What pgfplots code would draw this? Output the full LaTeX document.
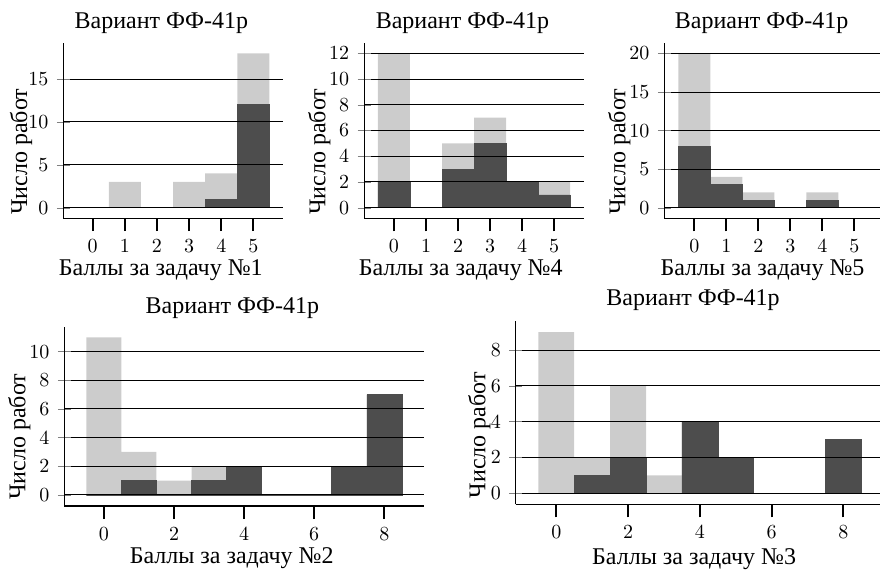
\documentclass[border=0pt]{standalone}
\usepackage{fontspec}
\setmainfont{Liberation Serif}[Scale=1.2]
\usepackage{pgfplots}
\usepackage{pgfplotstable}
\pgfplotsset{compat=1.18}
\definecolor{lightbar}{RGB}{204,204,204}
\definecolor{darkbar}{RGB}{77,77,77}

% x = score, a = all works, b = subset
\pgfplotstableread{
x a b
0 0 0
1 3 0
2 0 0
3 3 0
4 4 1
5 18 12
}\tabOne
\pgfplotstableread{
x a b
0 12 2
1 0 0
2 5 3
3 7 5
4 2 2
5 2 1
}\tabFour
\pgfplotstableread{
x a b
0 20 8
1 4 3
2 2 1
3 0 0
4 2 1
5 0 0
}\tabFive
\pgfplotstableread{
x a b
0 11 0
1 3 1
2 1 0
3 2 1
4 2 2
5 0 0
6 0 0
7 2 2
8 7 7
}\tabTwo
\pgfplotstableread{
x a b
0 9 0
1 2 1
2 6 2
3 1 0
4 4 4
5 2 2
6 0 0
7 0 0
8 3 3
}\tabThree

\pgfplotsset{
  histo/.style={
    scale only axis,
    anchor=south west,
    ymajorgrids,
    grid style={black, line width=0.5pt},
    axis line style={black, line width=0.5pt},
    every axis title shift=0pt,
    title={Вариант ФФ-41р},
    ylabel={Число работ},
    title style={anchor=base, inner sep=0pt},
    xlabel style={anchor=base, inner sep=0pt},
    ylabel style={anchor=base, inner sep=0pt},
    axis on top,
    axis x line=bottom, axis y line=left, axis line style={-},
    xtick align=outside, major tick length=6.5pt,
    xtick style={draw=black, line width=1pt},
  },
  lbar/.style={ybar, bar width=1, bar shift=0pt, fill=lightbar, draw=none},
  dbar/.style={ybar, bar width=1, bar shift=0pt, fill=darkbar, draw=darkbar, line width=0.3pt},
}

\begin{document}
\begin{tikzpicture}
\useasboundingbox (0,0) rectangle (440pt,284.5pt);

% Plot 1: problem 1
\begin{axis}[histo,
  at={(31.65pt,175.5pt)}, width=110pt, height=87.5pt,
  xmin=-0.915, xmax=5.93, ymin=-1.2, ymax=19.2,
  xtick={0,1,2,3,4,5}, ytick={0,5,10,15},
  xlabel={Баллы за задачу №1},
  title style={at={(axis description cs:0.446,1.084)}},
  xlabel style={at={(axis description cs:0.443,-0.326)}},
  ylabel style={at={(axis description cs:-0.165,0.379)}},
]
\addplot[lbar] table[x=x,y=a] {\tabOne};
\addplot[dbar] table[x=x,y=b] {\tabOne};
\end{axis}

% Plot 2: problem 4
\begin{axis}[histo,
  at={(182pt,175.35pt)}, width=110.15pt, height=87.8pt,
  xmin=-0.935, xmax=5.94, ymin=-0.82, ymax=12.82,
  xtick={0,1,2,3,4,5}, ytick={0,2,4,6,8,10,12},
  xlabel={Баллы за задачу №4},
  title style={at={(axis description cs:0.447,1.082)}},
  xlabel style={at={(axis description cs:0.439,-0.323)}},
  ylabel style={at={(axis description cs:-0.175,0.379)}},
]
\addplot[lbar] table[x=x,y=a] {\tabFour};
\addplot[dbar] table[x=x,y=b] {\tabFour};
\end{axis}

% Plot 3: problem 5
\begin{axis}[histo,
  at={(332.15pt,175.35pt)}, width=109.85pt, height=87.8pt,
  xmin=-0.94, xmax=5.93, ymin=-1.37, ymax=21.4,
  xtick={0,1,2,3,4,5}, ytick={0,5,10,15,20},
  xlabel={Баллы за задачу №5},
  title style={at={(axis description cs:0.443,1.082)}},
  xlabel style={at={(axis description cs:0.447,-0.323)}},
  ylabel style={at={(axis description cs:-0.177,0.379)}},
]
\addplot[lbar] table[x=x,y=a] {\tabFive};
\addplot[dbar] table[x=x,y=b] {\tabFive};
\end{axis}

% Plot 4: problem 2
\begin{axis}[histo,
  at={(32.15pt,31.5pt)}, width=180pt, height=89.65pt,
  xmin=-1.13, xmax=9.14, ymin=-0.77, ymax=11.74,
  xtick={0,2,4,6,8}, ytick={0,2,4,6,8,10},
  xlabel={Баллы за задачу №2},
  title style={at={(axis description cs:0.467,1.075)}},
  xlabel style={at={(axis description cs:0.465,-0.32)}},
  ylabel style={at={(axis description cs:-0.108,0.386)}},
]
\addplot[lbar] table[x=x,y=a] {\tabTwo};
\addplot[dbar] table[x=x,y=b] {\tabTwo};
\end{axis}

% Plot 5: problem 3
\begin{axis}[histo,
  at={(257.85pt,32.35pt)}, width=184.35pt, height=91.8pt,
  xmin=-1.13, xmax=9.14, ymin=-0.62, ymax=9.64,
  xtick={0,2,4,6,8}, ytick={0,2,4,6,8},
  xlabel={Баллы за задачу №3},
  title style={at={(axis description cs:0.481,1.0855)}},
  xlabel style={at={(axis description cs:0.484,-0.33)}},
  ylabel style={at={(axis description cs:-0.082,0.377)}},
]
\addplot[lbar] table[x=x,y=a] {\tabThree};
\addplot[dbar] table[x=x,y=b] {\tabThree};
\end{axis}
\end{tikzpicture}
\end{document}
